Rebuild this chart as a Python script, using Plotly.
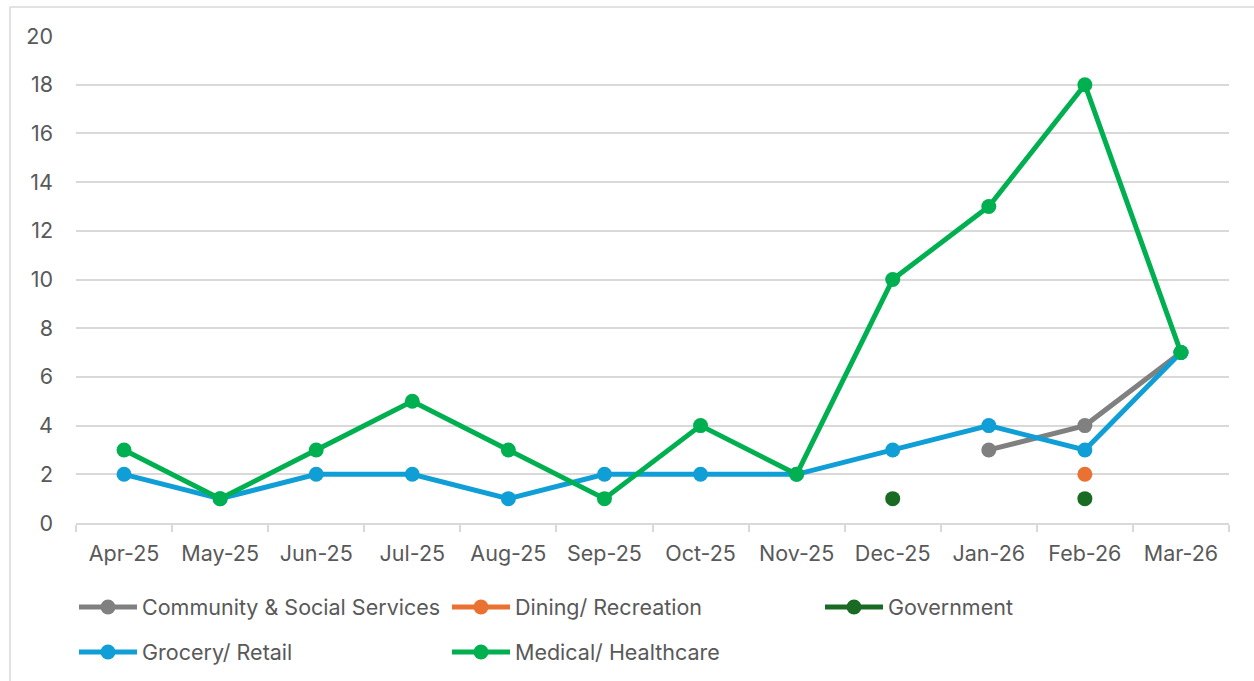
import plotly.graph_objects as go

months = ["Apr-25", "May-25", "Jun-25", "Jul-25", "Aug-25", "Sep-25",
          "Oct-25", "Nov-25", "Dec-25", "Jan-26", "Feb-26", "Mar-26"]

community = [None, None, None, None, None, None, None, None, None, 3, 4, 7]
dining = [None, None, None, None, None, None, None, None, None, None, 2, None]
government = [None, None, None, None, None, None, None, None, 1, None, 1, None]
grocery = [2, 1, 2, 2, 1, 2, 2, 2, 3, 4, 3, 7]
medical = [3, 1, 3, 5, 3, 1, 4, 2, 10, 13, 18, 7]

series = [
    ("Community & Social Services", community, "#808080", "legend"),
    ("Dining/ Recreation", dining, "#E97132", "legend"),
    ("Government", government, "#196B24", "legend"),
    ("Grocery/ Retail", grocery, "#0F9ED5", "legend2"),
    ("Medical/ Healthcare", medical, "#00B050", "legend2"),
]

FONT = "Inter"
TEXT = "#595959"
GRID = "#D9D9D9"

fig = go.Figure()
for name, vals, color, leg in series:
    fig.add_trace(go.Scatter(
        x=months, y=vals, name=name, mode="lines+markers",
        line=dict(color=color, width=5),
        marker=dict(color=color, size=15),
        connectgaps=False, legend=leg,
    ))

W, H = 1254, 681
L, R, T, B = 76, 25, 36, 158
pw, ph = W - L - R, H - T - B

legend_common = dict(
    orientation="h", xref="container", yref="container",
    xanchor="left", yanchor="middle",
    font=dict(family=FONT, size=21.5, color=TEXT),
    entrywidth=300, entrywidthmode="pixels",
    bgcolor="rgba(0,0,0,0)", itemwidth=58,
    traceorder="normal",
)

fig.update_layout(
    width=W, height=H,
    margin=dict(l=L, r=R, t=T, b=B),
    paper_bgcolor="white", plot_bgcolor="white",
    font=dict(family=FONT, color=TEXT),
    showlegend=True,
    legend=dict(x=74 / W, y=1 - 607 / H, **legend_common),
    legend2=dict(x=74 / W, y=1 - 652 / H, **legend_common),
    xaxis=dict(
        type="category", showgrid=False,
        showline=True, linecolor=GRID, linewidth=1.5,
        ticks="outside", tickson="boundaries", ticklen=7,
        tickcolor=GRID, tickwidth=1.5,
        tickfont=dict(family=FONT, size=21.5, color=TEXT),
        ticklabelstandoff=10,
        range=[-0.5, 11.5], fixedrange=True,
    ),
    yaxis=dict(
        range=[0, 20], dtick=2, tick0=0,
        showgrid=True, gridcolor=GRID, gridwidth=1.5,
        zeroline=False, showline=False,
        tickfont=dict(family=FONT, size=21.5, color=TEXT),
        ticklabelstandoff=22,
    ),
    shapes=[
        dict(type="line", xref="paper", yref="paper",
             x0=(10 - L) / pw, x1=(W + 20 - L) / pw,
             y0=(H - B - 7) / ph, y1=(H - B - 7) / ph,
             line=dict(color=GRID, width=1.5)),
        dict(type="line", xref="paper", yref="paper",
             x0=(10 - L) / pw, x1=(10 - L) / pw,
             y0=(H - B - 7) / ph, y1=-(B + 20) / ph,
             line=dict(color=GRID, width=1.5)),
    ],
)

fig.write_html("out.html")
